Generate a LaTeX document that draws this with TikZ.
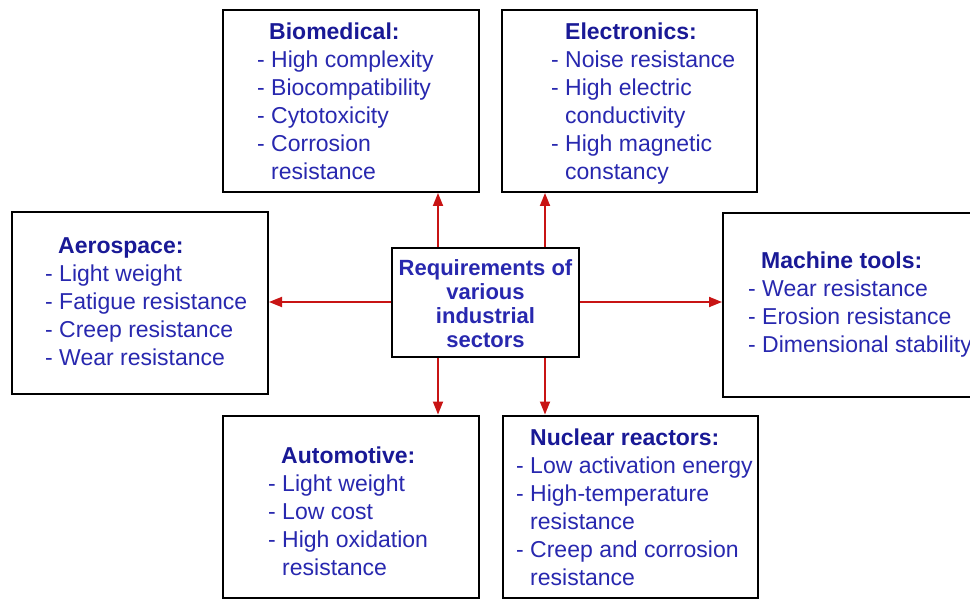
\documentclass[tikz,border=0pt]{standalone}
\usepackage{fontspec}
\setmainfont{Liberation Sans}
\usetikzlibrary{arrows.meta}
\definecolor{txtblue}{RGB}{40,40,175}
\definecolor{headblue}{RGB}{25,25,150}
\definecolor{arrred}{RGB}{200,20,20}
\begin{document}
\begin{tikzpicture}[x=1pt,y=-1pt,
  box/.style={draw=black,line width=2pt,fill=white,rectangle,inner sep=0pt},
  txt/.style={anchor=north west,inner sep=0pt,align=left,text=txtblue,font=\fontsize{23}{28}\selectfont},
  ctxt/.style={inner sep=0pt,align=center,text=txtblue,font=\bfseries\fontsize{22}{24}\selectfont},
  arr/.style={draw=arrred,line width=1.8pt,-{Triangle[length=13pt,width=10pt]}}]
\useasboundingbox (0,0) rectangle (970,599);
\fill[white] (0,0) rectangle (970,599);
\newcommand{\hd}[1]{\textcolor{headblue}{\textbf{#1}}}
% boxes
\node[box,minimum width=256pt,minimum height=182pt] (bio) at (351,101) {};
\node[box,minimum width=255pt,minimum height=182pt] (ele) at (629.5,101) {};
\node[box,minimum width=256pt,minimum height=182pt] (aer) at (140,303) {};
\node[box,minimum width=187pt,minimum height=109pt] (cen) at (485.5,302.5) {};
\node[box,minimum width=260pt,minimum height=184pt] (mac) at (853,305) {};
\node[box,minimum width=256pt,minimum height=182pt] (aut) at (351,506.5) {};
\node[box,minimum width=255pt,minimum height=182pt] (nuc) at (630.5,506.5) {};
% texts
\node[txt] (biot) at (257,23) {\hspace*{12pt}\hd{Biomedical:}\\- High complexity\\- Biocompatibility\\- Cytotoxicity\\- Corrosion\\\hspace*{14pt}resistance};
\node[txt] (elet) at (551,23) {\hspace*{14pt}\hd{Electronics:}\\- Noise resistance\\- High electric\\\hspace*{14pt}conductivity\\- High magnetic\\\hspace*{14pt}constancy};
\node[txt] (aert) at (45,237) {\hspace*{13pt}\hd{Aerospace:}\\- Light weight\\- Fatigue resistance\\- Creep resistance\\- Wear resistance};
\node[txt] (mact) at (748,252) {\hspace*{13pt}\hd{Machine tools:}\\- Wear resistance\\- Erosion resistance\\- Dimensional stability};
\node[txt] (autt) at (268,447) {\hspace*{13pt}\hd{Automotive:}\\- Light weight\\- Low cost\\- High oxidation\\\hspace*{14pt}resistance};
\node[txt] (nuct) at (516,429) {\hspace*{14pt}\hd{Nuclear reactors:}\\- Low activation energy\\- High-temperature\\\hspace*{14pt}resistance\\- Creep and corrosion\\\hspace*{14pt}resistance};
\node[ctxt] (cent) at (485.5,304) {Requirements of\\various\\industrial\\sectors};
% arrows
\draw[arr] (cen.north -| 438,0) -- (bio.south -| 438,0);
\draw[arr] (cen.north -| 545,0) -- (ele.south -| 545,0);
\draw[arr] (cen.south -| 438,0) -- (aut.north -| 438,0);
\draw[arr] (cen.south -| 545,0) -- (nuc.north -| 545,0);
\draw[arr] (cen.west |- 0,302) -- (aer.east |- 0,302);
\draw[arr] (cen.east |- 0,302) -- (mac.west |- 0,302);
\end{tikzpicture}
\end{document}
